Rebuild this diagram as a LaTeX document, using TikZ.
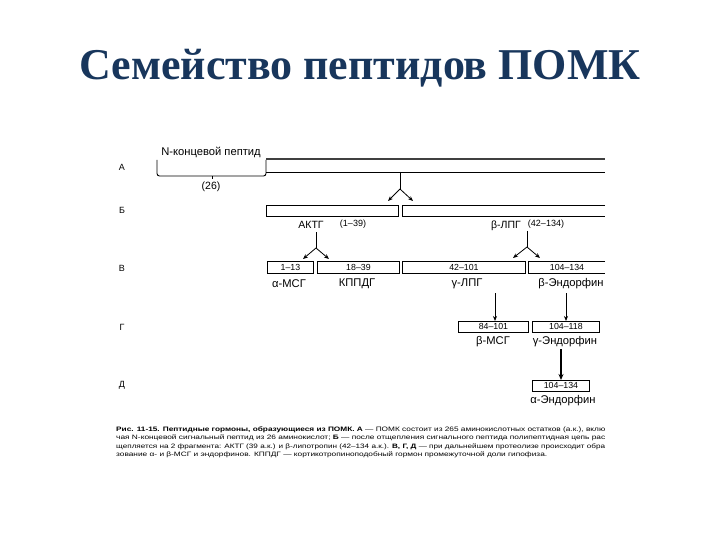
\documentclass[tikz,border=0pt]{standalone}
\usepackage{fontspec}
\setmainfont{Liberation Sans}
\newfontfamily\titlefont{Liberation Serif}
\usetikzlibrary{arrows.meta}
\definecolor{titleblue}{RGB}{24,54,92}
\begin{document}
\begin{tikzpicture}[x=1pt,y=-1pt,
  ln/.style={line width=0.9pt},
  arr/.style={line width=0.8pt,-{Stealth[length=5pt,width=4pt]}},
  seg/.style={draw,line width=0.9pt,inner sep=0pt,anchor=north west,font=\fontsize{8.8}{9}\selectfont},
  lbl/.style={inner sep=0pt,font=\fontsize{10.5}{12}\selectfont},
  mlbl/.style={inner sep=0pt,font=\fontsize{11.2}{12}\selectfont},
  slbl/.style={inner sep=0pt,font=\fontsize{9}{10}\selectfont},
  rowl/.style={inner sep=0pt,font=\fontsize{9}{10}\selectfont},
  captxt/.style={inner sep=0pt,anchor=base west}]
\useasboundingbox (0,0) rectangle (720,540);
\fill[white] (0,0) rectangle (720,540);
% title
\node[inner sep=0pt,text=titleblue,font=\titlefont\bfseries\fontsize{44}{50}\selectfont] (title) at (360,68) {Семейство пептидов ПОМК};
% row letters
\node[rowl] (rA) at (122,167) {А};
\node[rowl] (rB) at (122,210) {Б};
\node[rowl] (rV) at (122,268) {В};
\node[rowl] (rG) at (122,327) {Г};
\node[rowl] (rD) at (122,385) {Д};
% row A
\node[lbl,font=\fontsize{11.2}{12}\selectfont] (nterm) at (211,152) {N-концевой пептид};
\draw[ln,rounded corners=2.5pt] (157,160) -- (157,176) -- (266,176) -- (266,160);
\draw[ln] (212,176) -- (212,179);
\node[slbl,font=\fontsize{10.5}{11}\selectfont] (n26) at (211,187) {(26)};
\draw[line width=1.1pt,black!75] (266,159) -- (605,159);
\draw[ln] (266,172) -- (605,172);
\coordinate (fA) at (400,172);
\coordinate (fAs) at (400,189);
\draw[ln] (fA) -- (fAs);
% row B
\node[seg,minimum width=132,minimum height=11] (actB) at (266,205) {};
\draw[ln] (605,205) -- (402,205) -- (402,216) -- (605,216);
\coordinate (lpB) at (413,201);
\coordinate (acB) at (388,201);
\draw[arr] (fAs) -- (acB);
\draw[arr] (fAs) -- (lpB);
\node[lbl] (acth) at (311,225) {АКТГ};
\node[slbl] (acthn) at (353,224) {(1–39)};
\node[lbl] (blpg) at (506,226) {β-ЛПГ};
\node[slbl] (blpgn) at (546,224) {(42–134)};
% forks to row V
\coordinate (fV1t) at (316,232);
\coordinate (fV1) at (316,248);
\draw[ln] (fV1t) -- (fV1);
\draw[arr] (fV1) -- (303,259);
\draw[arr] (fV1) -- (329,259);
\coordinate (fV2t) at (527,231);
\coordinate (fV2) at (527,247);
\draw[ln] (fV2t) -- (fV2);
\draw[arr] (fV2) -- (513,258);
\draw[arr] (fV2) -- (540,258);
% row V
\node[seg,minimum width=46,minimum height=12] (b113) at (267,261) {1–13};
\node[seg,minimum width=82,minimum height=12] (b1839) at (317,261) {18–39};
\node[seg,minimum width=123,minimum height=12] (b42) at (402,261) {42–101};
\draw[ln] (605,261) -- (528,261) -- (528,273) -- (605,273);
\node[inner sep=0pt,font=\fontsize{8.8}{9}\selectfont] (b104) at (567,267) {104–134};
\node[mlbl] (amsh) at (289,284) {α-МСГ};
\node[mlbl] (clip) at (357,284) {КППДГ};
\node[mlbl] (glpg) at (467,284) {γ-ЛПГ};
\node[mlbl] (bend) at (571,284) {β-Эндорфин};
% row G
\node[seg,minimum width=70,minimum height=11] (b84) at (458,321) {84–101};
\node[seg,minimum width=67,minimum height=11] (b118) at (532,321) {104–118};
\coordinate (a84) at (495,293);
\coordinate (a118) at (566,293);
\draw[arr] (a84) -- (a84 |- b84.north);
\draw[arr] (a118) -- (a118 |- b118.north);
\node[mlbl] (bmsh) at (493,342) {β-МСГ};
\node[mlbl] (gend) at (565,342) {γ-Эндорфин};
% row D
\node[seg,minimum width=57,minimum height=11] (b134) at (532,380) {104–134};
\coordinate (a134) at (561,349);
\draw[line width=1.1pt,-{Stealth[length=6pt,width=5pt]}] (a134) -- (a134 |- b134.north);
\node[mlbl] (aend) at (563,401) {α-Эндорфин};
% caption
\node[captxt] (c1) at (116,431) {\resizebox{489pt}{4.7pt}{\textbf{Рис. 11-15. Пептидные гормоны, образующиеся из ПОМК.} \textbf{А} — ПОМК состоит из 265 аминокислотных остатков (а.к.), вклю}};
\node[captxt] (c2) at (116,439.5) {\resizebox{489pt}{4.7pt}{чая N-концевой сигнальный пептид из 26 аминокислот; \textbf{Б} — после отщепления сигнального пептида полипептидная цепь рас}};
\node[captxt] (c3) at (116,448) {\resizebox{489pt}{4.7pt}{щепляется на 2 фрагмента: АКТГ (39 а.к.) и β-липотропин (42–134 а.к.). \textbf{В, Г, Д} — при дальнейшем протеолизе происходит обра}};
\node[captxt] (c4) at (116,456.5) {\resizebox{431pt}{4.7pt}{зование α- и β-МСГ и эндорфинов. КППДГ — кортикотропиноподобный гормон промежуточной доли гипофиза.}};
\end{tikzpicture}
\end{document}
